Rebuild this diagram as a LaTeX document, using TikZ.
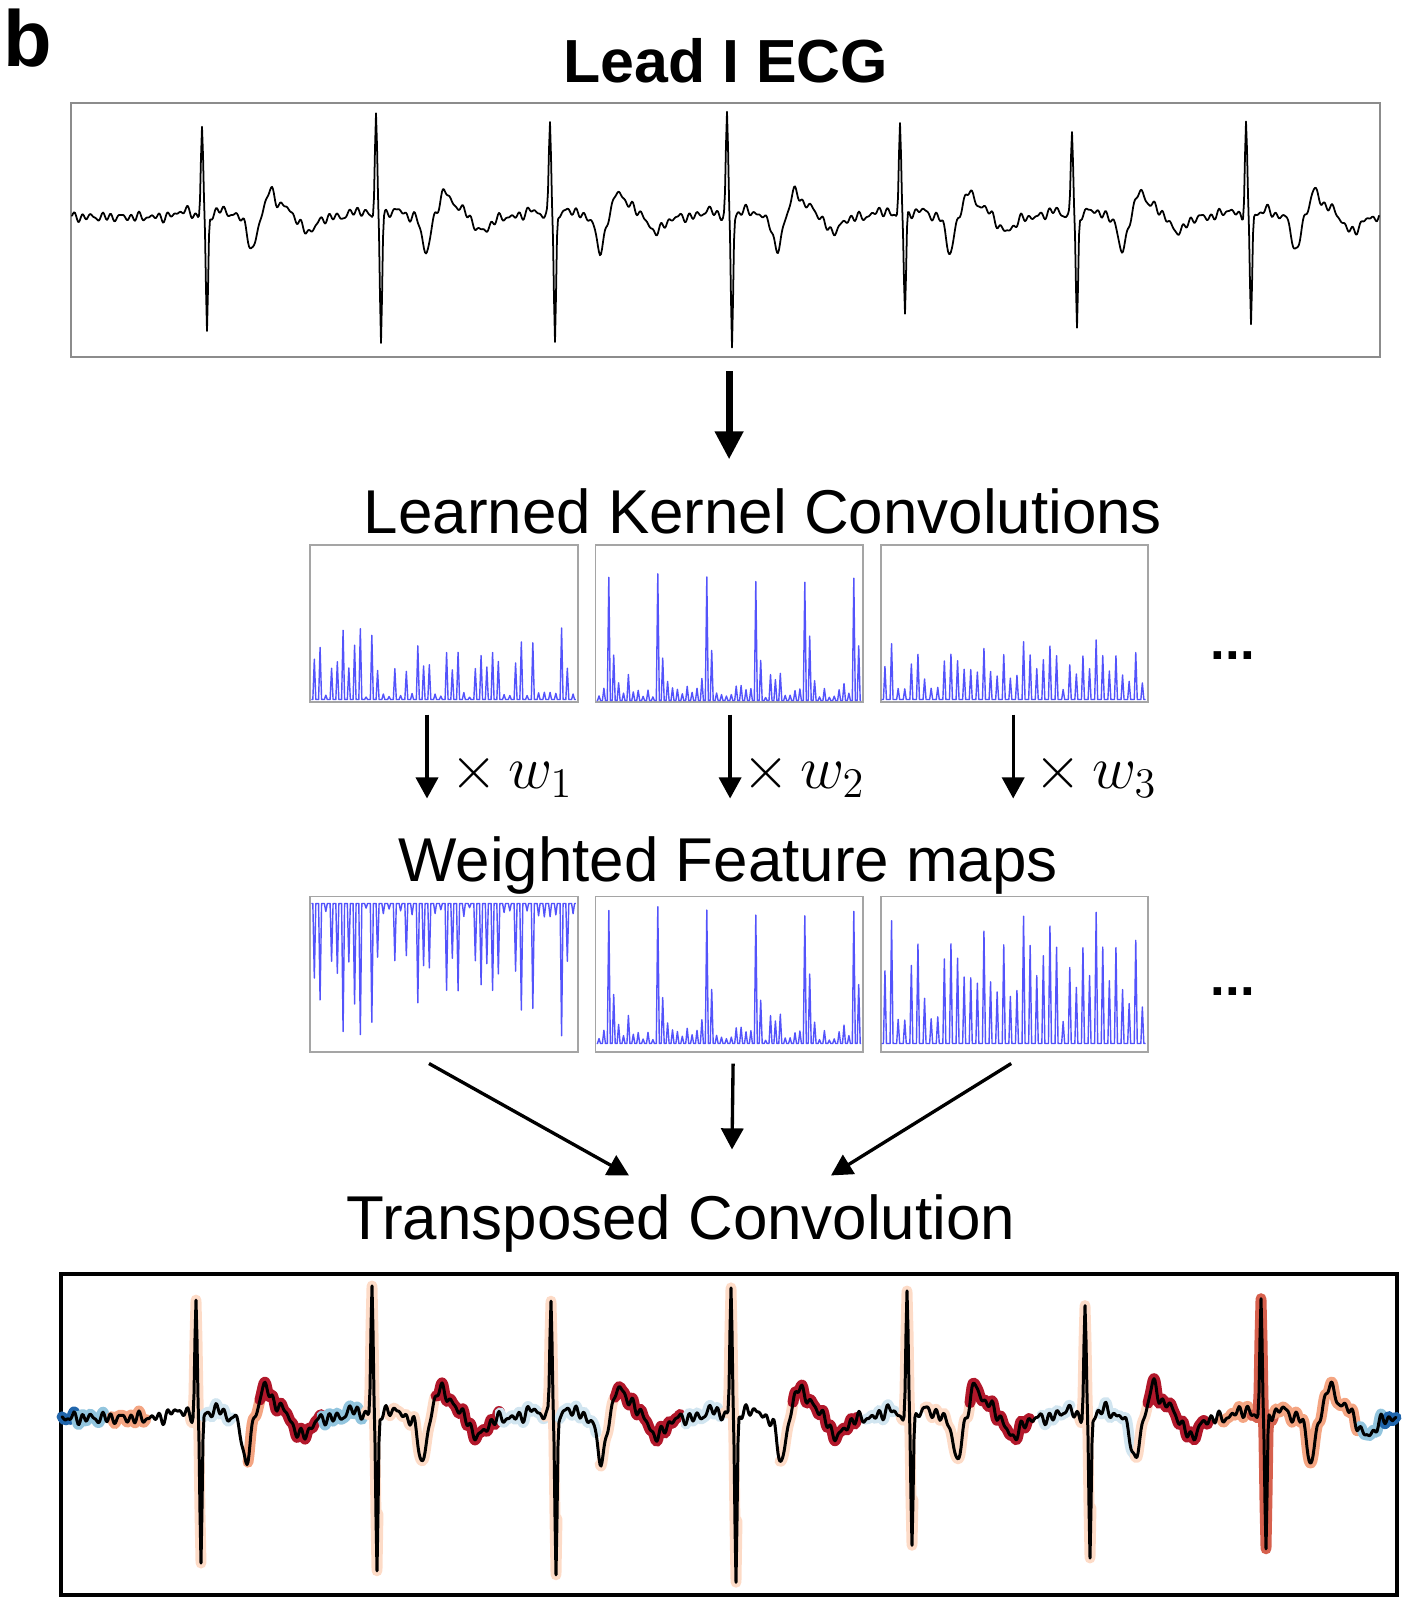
\documentclass[tikz,border=0pt]{standalone}
\usepackage[no-math]{fontspec}
\setmainfont{Liberation Sans}
\usetikzlibrary{arrows.meta,positioning,calc}

\definecolor{boxgray}{RGB}{140,140,140}
\definecolor{panelgray}{RGB}{165,165,165}
\definecolor{spkblue}{RGB}{40,40,250}
\definecolor{hldblue}{RGB}{33,102,172}
\definecolor{hlblue}{RGB}{146,197,222}
\definecolor{hlltblue}{RGB}{209,229,240}
\definecolor{hlfaint}{RGB}{253,219,199}
\definecolor{hlorange}{RGB}{244,165,130}
\definecolor{hlred}{RGB}{178,24,43}
\definecolor{hlstrong}{RGB}{214,96,77}

\tikzset{
    >=Stealth,
    declare function={
        G(\z)=exp(-min(\z*\z,40));
        jit(\t)=2.4*sin(38*mod(\t,180))+1.9*sin(51*mod(\t,120)+40)+1.6*sin(22*mod(\t,180)+110);
        ecg(\t,\c,\hr,\hs,\k,\nz)=-\hr*G((\t-\c)/1.6)+\hs*G((\t-\c-5)/1.5)
            +\k*(-8*G((\t-\c+18)/10)-9*G((\t-\c-20)/9)+44*G((\t-\c-50)/5.5)
            -28*G((\t-\c-68)/6)-14*G((\t-\c-80)/12)+18*G((\t-\c-106)/11))+\nz*jit(\t);
    },
    title/.style={font=\fontsize{17.3}{21}\selectfont\bfseries, inner sep=0pt},
    head/.style={font=\fontsize{17.6}{21}\selectfont, inner sep=0pt},
    ecgbox/.style={rectangle, draw=boxgray, line width=0.6pt, inner sep=0pt},
    panel/.style={rectangle, draw=panelgray, line width=0.55pt, inner sep=0pt, minimum width=2.67cm, minimum height=1.56cm},
    spk/.style={draw=spkblue, draw opacity=0.8, line width=0.4pt, line join=round},
    sig/.style={line width=0.5pt, line join=round, line cap=round},
    sigb/.style={line width=0.85pt, line join=round, line cap=round},
    hl/.style={line width=3.1pt, line join=round, line cap=round},
    bigarrow/.style={line width=2pt, -{Triangle[length=8pt, width=7.7pt]}},
    arr/.style={line width=0.95pt, -{Triangle[length=6pt, width=6.3pt]}},
    wlabel/.style={font=\fontsize{17}{20}\selectfont, inner sep=0pt, anchor=base west},
    dots/.style={font=\fontsize{15}{18}\selectfont\bfseries, inner sep=0pt, anchor=base west}
}

% start, seed, count, step, height formula, scale
\newcommand\spiketrain[6]{%
  \pgfmathsetseed{#2}
  \draw[spk] #1 \foreach \i [evaluate=\i as \h using {#6*(#5)}] in {1,...,#3}
     { -- ++({0.5*#4-1.5},0) -- ++(1.5,{-1*(\h)}) -- ++(1.5,\h) -- ++({0.5*#4-1.5},0) };
}

\begin{document}
\begin{tikzpicture}[x=0.01cm, y=-0.01cm]
    \useasboundingbox (0,0) rectangle (1410,1606);

    \node[font=\fontsize{22.6}{26}\selectfont\bfseries, inner sep=0pt, anchor=base west] (tag) at (3,66) {b};
    \node[title, anchor=base] (lead) at (726,82) {Lead I ECG};
    \node[ecgbox, minimum width=13.09cm, minimum height=2.54cm] (ecg) at (725.5,230) {};

    % raw trace
    \foreach \rp/\ha/\hs/\lo/\hi in {202/89/116/72/337, 376/104/124/337/511, 550/95/127/511/685,
        727/102/130/685/862, 900/94/97/862/1035, 1072/85/114/1035/1207, 1246/94/107/1207/1379}{
        \pgfmathtruncatemacro\n{\hi-\lo+1}
        \draw[sig] plot[domain=\lo:\hi, samples=\n] (\x,{217+ecg(\x,\rp,\ha,\hs,0.8,1)});
    }

    \node[head, anchor=base] (lkc) at (763,533) {Learned Kernel Convolutions};
    \node[panel] (k1) at (444,623.5) {};
    \node[panel, right=0.16cm of k1] (k2) {};
    \node[panel, right=0.16cm of k2] (k3) {};
    \node[dots] (dk) at (1210,659) {...};

    \node[head, anchor=base] (wfm) at (728,881) {Weighted Feature maps};
    \node[panel, minimum height=1.55cm] (f1) at (444,974) {};
    \node[panel, minimum height=1.55cm, right=0.16cm of f1] (f2) {};
    \node[panel, minimum height=1.55cm, right=0.16cm of f2] (f3) {};
    \node[dots] (df) at (1210,995) {...};

    \spiketrain{($(k1.south west)+(2,-3)$)}{11}{46}{5.75}{rnd<0.3 ? 2+6*rnd : 22+52*rnd}{1}
    \spiketrain{($(f1.north west)+(2,8)$)}{11}{46}{5.75}{rnd<0.3 ? 2+6*rnd : 22+52*rnd}{-1.85}
    \spiketrain{($(k2.south west)+(2,-2)$)}{27}{54}{4.9}{mod(\i,10)==3 ? 116+16*rnd : (mod(\i,10)==4 ? 40+28*rnd : 3+26*rnd*rnd)}{1}
    \spiketrain{($(f2.south west)+(2,-9)$)}{27}{54}{4.9}{mod(\i,10)==3 ? 116+16*rnd : (mod(\i,10)==4 ? 40+28*rnd : 3+26*rnd*rnd)}{1.08}
    \spiketrain{($(k3.south west)+(2,-3)$)}{5}{40}{6.6}{8+52*rnd}{1}
    \spiketrain{($(f3.south west)+(2,-9)$)}{5}{40}{6.6}{8+52*rnd}{2.2}

    \draw[bigarrow] ($(ecg.south -| k2.north)+(0,13)$) -- ($(lkc.north -| k2.north)+(0,-28)$);

    \draw[arr] ($(k1.south)+(-17,12)$) -- ($(f1.north)+(-17,-97)$);
    \node[wlabel] (w1) at (450,788) {$\times\,w_1$};
    \draw[arr] ($(k2.south)+(1,12)$) -- ($(f2.north)+(1,-97)$);
    \node[wlabel] (w2) at (742,788) {$\times\,w_2$};
    \draw[arr] ($(k3.south)+(-1,12)$) -- ($(f3.north)+(-1,-97)$);
    \node[wlabel] (w3) at (1034,788) {$\times\,w_3$};

    \node[head, anchor=base] (tc) at (681,1239) {Transposed Convolution};
    \draw[arr] ($(f1.south)+(-15,11)$) -- ($(tc.north)+(-52,-18)$);
    \draw[arr] ($(f2.south)+(4,11)$) -- ($(tc.north)+(51,-44)$);
    \draw[arr] ($(f3.south)+(-3,11)$) -- ($(tc.north)+(150,-18)$);

    \node[rectangle, draw=black, line width=1.15pt, minimum width=13.36cm, minimum height=3.21cm, inner sep=0pt] (out) at (729,1434.5) {};

    % relevance shading under the trace
    \foreach \rp/\ha/\hs/\lo/\hi/\cl in {
        196/115/145/62/76/hldblue, 196/115/145/76/104/hlblue, 196/115/145/112/146/hlorange,
        196/115/145/190/201/hlfaint, 196/115/145/204/232/hlltblue, 196/115/145/248/262/hlorange,
        196/115/145/260/322/hlred, 196/115/145/322/331/hlblue,
        372/133/155/331/362/hlblue, 372/133/155/366/378/hlfaint, 372/133/155/388/436/hlfaint,
        372/133/155/436/500/hlred, 372/133/155/500/507/hlltblue,
        551/121/160/507/545/hlltblue, 551/121/160/545/557/hlfaint, 551/121/160/560/596/hlltblue,
        551/121/160/600/616/hlfaint, 551/121/160/615/680/hlred,
        731/130/164/686/720/hlltblue, 731/130/164/725/737/hlfaint, 731/130/164/780/795/hlfaint,
        731/130/164/793/857/hlred,
        907/120/122/866/895/hlltblue, 907/120/122/901/913/hlfaint, 907/120/122/925/972/hlfaint,
        907/120/122/970/1030/hlred,
        1085/108/141/1042/1070/hlltblue, 1085/108/141/1079/1091/hlfaint, 1085/108/141/1100/1135/hlltblue,
        1085/108/141/1135/1150/hlfaint, 1085/108/141/1148/1208/hlred,
        1261/120/135/1222/1252/hlorange, 1261/120/135/1252/1274/hlstrong, 1261/120/135/1274/1358/hlorange,
        1261/120/135/1360/1384/hlblue, 1261/120/135/1384/1396/hldblue}{
        \pgfmathtruncatemacro\n{\hi-\lo+1}
        \draw[hl, draw=\cl] plot[domain=\lo:\hi, samples=\n] (\x,{1418+ecg(\x,\rp,\ha,\hs,1,1.3)});
    }
    \foreach \rp/\ha/\hs/\lo/\hi in {196/115/145/62/331, 372/133/155/331/507, 551/121/160/507/686,
        731/130/164/686/866, 907/120/122/866/1042, 1085/108/141/1042/1220, 1261/120/135/1220/1396}{
        \pgfmathtruncatemacro\n{\hi-\lo+1}
        \draw[sigb] plot[domain=\lo:\hi, samples=\n] (\x,{1418+ecg(\x,\rp,\ha,\hs,1,1.3)});
    }
\end{tikzpicture}
\end{document}
